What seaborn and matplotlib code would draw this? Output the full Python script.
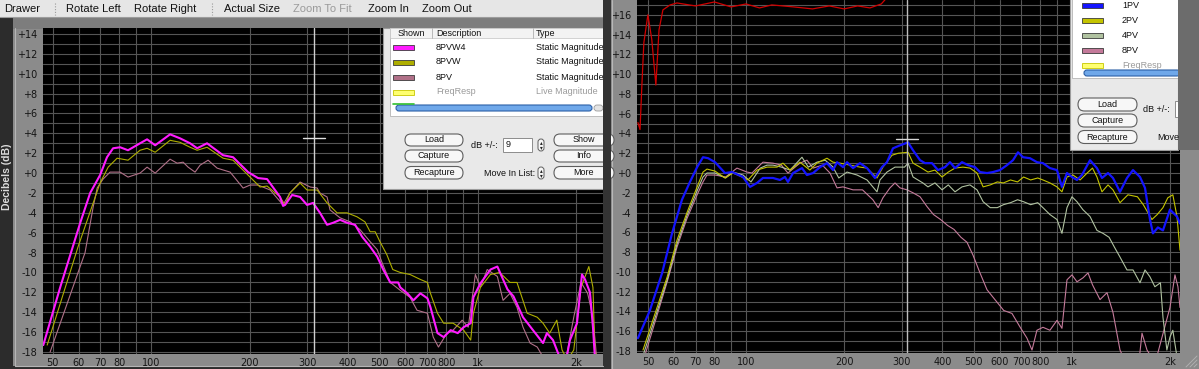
import matplotlib
matplotlib.use("Agg")
import matplotlib.pyplot as plt
import seaborn as sns
import pandas as pd
from matplotlib.patches import Rectangle, FancyBboxPatch
from matplotlib.ticker import FixedLocator, FixedFormatter, NullFormatter, FuncFormatter, MultipleLocator

# ---------------- data (frequency in Hz, level in dB) ----------------
# left window
L_F_8PVW4 = [46.8, 52.7, 59.4, 60.7, 65.1, 69.8, 73.3, 76.5, 80.4, 85.0, 92.5, 97.2, 102.9, 114.3, 122.6,
             131.6, 138.3, 148.3, 166.0, 178.1, 198.0, 212.4, 226.3, 248.0, 253.3, 256.9, 270.0, 285.6, 300.0,
             313.0, 328.6, 345.4, 360.3, 378.5, 397.7, 420.8, 442.1, 467.8, 491.6, 512.9, 539.0, 569.8, 578.5,
             607.9, 634.4, 666.4, 700.4, 715.5, 751.8, 784.9, 824.7, 866.9, 903.8, 949.9, 968.1, 1017, 1092,
             1146, 1231, 1284, 1373, 1473, 1581, 1625, 1696, 1781, 1860, 1911, 2008, 2080, 2125, 2200, 2247,
             2279, 2412]
L_DB_8PVW4 = [-17.3, -11.5, -6.0, -5.0, -2.0, -0.2, 1.6, 2.5, 2.6, 2.3, 3.0, 3.4, 2.8, 3.9, 3.5,
              3.0, 2.5, 3.0, 1.8, 1.6, 0.1, -0.5, -0.6, -2.4, -3.3, -3.2, -2.2, -2.4, -3.2,
              -3.0, -4.0, -5.2, -5.0, -4.7, -5.0, -5.2, -6.4, -7.4, -8.4, -9.7, -11.0, -11.0, -11.5,
              -12.1, -12.8, -12.1, -12.6, -13.5, -16.1, -16.5, -15.8, -16.1, -15.5, -15.1, -12.5, -11.1, -9.7,
              -9.4, -11.7, -12.4, -14.5, -15.8, -17.1, -16.1, -16.8, -18.6, -18.8, -16.8, -15.1, -10.2, -10.7,
              -12.0, -15.5, -18.6, -19.5]

L_F_8PVW = [48.1, 59.8, 69.8, 73.9, 78.7, 85.0, 92.5, 97.2, 102.9, 114.3, 122.6, 131.6, 138.3, 148.3, 166.0,
            178.1, 198.0, 215.4, 226.3, 248.0, 256.9, 265.8, 285.6, 300.0, 322.0, 345.4, 370.6, 397.7, 426.7,
            451.0, 467.8, 484.7, 501.3, 526.1, 548.5, 578.5, 619.5, 666.4, 700.4, 715.5, 751.8, 784.9, 838.9,
            903.8, 949.9, 968.1, 1017, 1092, 1165, 1253, 1316, 1414, 1518, 1581, 1657, 1742, 1808, 1877, 1963,
            2066, 2183, 2247, 2279, 2412]
L_DB_8PVW = [-17.3, -7.4, -1.0, 0.6, 1.5, 1.3, 2.3, 2.5, 2.1, 3.3, 3.1, 2.6, 2.3, 2.6, 1.5,
             1.3, -0.2, -1.4, -1.3, -2.4, -3.2, -2.0, -1.0, -1.7, -1.7, -3.0, -4.0, -4.0, -4.4,
             -4.9, -5.9, -5.9, -6.9, -8.2, -9.7, -10.0, -10.2, -10.7, -11.0, -12.1, -14.1, -15.1, -15.1,
             -15.8, -16.8, -14.1, -11.5, -10.2, -10.0, -11.0, -11.0, -14.1, -14.5, -15.1, -16.1, -14.8, -17.8,
             -18.8, -17.8, -11.5, -9.4, -11.5, -18.0, -19.5]

L_F_8PV = [49.1, 62.8, 66.5, 68.4, 71.3, 74.9, 80.4, 85.0, 92.5, 97.2, 102.9, 114.3, 120.1, 125.3, 129.8,
           136.3, 141.2, 149.4, 159.2, 174.5, 191.2, 200.9, 212.4, 231.3, 253.3, 265.8, 285.6, 306.8, 322.0,
           328.6, 345.4, 352.6, 378.5, 406.3, 436.0, 467.8, 491.6, 508.7, 539.0, 578.5, 619.5, 651.0, 700.4,
           729.5, 756.9, 803.5, 838.9, 894.6, 933.5, 981.5, 1017, 1067, 1146, 1193, 1253, 1316, 1373, 1443,
           1518, 1600, 1855, 1963, 2066, 2165, 2247, 2301, 2412]
L_DB_8PV = [-18.0, -8.0, -3.4, -1.5, -0.6, 0.1, 0.1, -0.4, 0.0, 0.6, 0.0, 1.4, 1.0, 1.1, 0.6,
            0.1, 0.8, 1.3, 0.5, 0.1, -1.5, -1.2, -1.2, -1.7, -3.2, -2.0, -0.9, -1.4, -1.5,
            -2.0, -2.4, -3.7, -4.5, -4.9, -5.7, -6.9, -7.7, -9.0, -11.0, -11.8, -12.5, -13.8, -14.1,
            -16.5, -17.5, -16.1, -15.8, -14.8, -15.5, -10.2, -11.5, -9.7, -10.4, -12.8, -12.1, -13.5, -15.5,
            -17.1, -17.5, -18.8, -18.8, -14.5, -11.0, -12.1, -14.5, -18.2, -19.5]

# right window
R_F_LIVE = [46.6, 47.3, 47.9, 48.6, 50.0, 51.4, 52.9, 54.1, 55.6, 58.5, 61.4, 70, 80, 90, 100, 110, 120,
            140, 160, 180, 200, 220, 240, 260, 275]
R_DB_LIVE = [5.1, 4.4, 8.7, 13.2, 16.0, 13.5, 8.9, 14.5, 16.5, 17.0, 17.2, 16.9, 17.3, 16.8, 17.1, 16.7,
             17.0, 16.8, 16.6, 16.9, 16.6, 16.9, 16.7, 17.1, 18.0]

R_F_1PV = [46.6, 50.7, 55.3, 59.3, 63.6, 67.3, 70.8, 73.8, 76.5, 80.3, 86.2, 90.6, 97.9, 102.9, 108.1,
           112.7, 121.0, 127.1, 131.7, 134.5, 139.4, 148.5, 153.8, 160.6, 168.7, 177.2, 184.9, 190.2, 198.4,
           204.1, 212.9, 223.7, 235.1, 248.7, 261.3, 270.7, 282.4, 296.8, 314.1, 325.4, 341.9, 354.2, 372.0,
           388.1, 407.8, 422.5, 437.7, 459.9, 479.8, 504.1, 522.2, 548.7, 572.4, 601.4, 631.9, 659.2, 683.0,
           707.5, 743.4, 780.9, 814.7, 855.9, 899.5, 931.7, 965.4, 1000, 1036, 1073, 1136, 1193, 1236, 1290,
           1336, 1404, 1475, 1539, 1617, 1675, 1735, 1772, 1835, 1902, 1998, 2100, 2145]
R_DB_1PV = [-16.7, -13.9, -10.1, -6.1, -2.7, -0.9, 0.6, 1.6, 1.5, 1.1, 0.0, 0.1, -0.4, -1.4, -1.0,
            -0.5, -0.5, -0.7, -0.4, -0.9, 0.0, 0.5, -0.2, 0.0, 0.6, 1.0, 0.3, 1.1, 0.6,
            1.1, 0.5, 1.0, 0.5, -0.5, 0.6, 1.1, 2.5, 2.8, 3.1, 2.3, 1.3, 1.0, 1.0,
            0.3, 0.6, 1.1, 0.5, 1.1, 0.8, 0.6, 0.1, 0.0, 0.1, 0.3, 0.8, 1.3, 2.1,
            1.6, 1.5, 1.1, 1.0, 0.5, 0.3, -1.4, 0.0, -0.4, -0.7, -0.2, 1.3, 0.5, -0.5, 0.0,
            -0.5, -1.9, -0.5, 0.3, -0.4, -1.5, -4.7, -6.1, -5.5, -5.8, -3.7, -4.4, -5.1]

R_F_2PV = [48.3, 57.3, 61.4, 65.9, 70.8, 73.8, 75.9, 80.3, 86.2, 91.2, 97.2, 101.4, 108.1, 116.0, 124.5,
           129.8, 136.5, 146.3, 157.0, 165.0, 177.2, 184.9, 194.2, 208.5, 223.7, 235.1, 252.3, 263.1, 280.4,
           293.0, 314.1, 325.4, 341.9, 361.6, 380.0, 399.4, 417.4, 437.7, 462.8, 486.5, 511.3, 533.9, 561.4,
           590.1, 616.2, 647.8, 680.9, 710.5, 746.9, 785.0, 814.7, 855.9, 899.5, 931.7, 965.4, 1007, 1059,
           1113, 1156, 1193, 1236, 1290, 1336, 1404, 1485, 1588, 1655, 1759, 1826, 1902, 1968, 2039, 2100, 2145]
R_DB_2PV = [-17.9, -10.5, -6.8, -4.0, -1.4, 0.1, 0.4, 0.2, -0.5, 0.0, -0.4, -0.7, 0.3, 0.6, 0.6,
            1.0, 0.3, 1.1, 0.3, 1.0, 1.5, 1.1, 1.0, 0.8, 0.6, 0.5, -0.5, 0.6, 1.8,
            2.0, 2.1, 1.0, 0.6, 0.1, 0.3, -0.4, 0.1, 0.5, 0.6, 0.5, 0.0, -1.4, -1.2,
            -0.9, -1.0, -0.7, -0.9, -0.4, -0.7, -0.5, -0.7, -1.0, -1.4, -1.9, -0.4, -0.2, -0.7,
            0.0, 0.5, -0.4, -1.9, -1.2, -1.7, -3.0, -2.2, -2.4, -3.2, -4.7, -4.2, -3.5, -2.5, -2.2, -4.4, -7.8]

R_F_4PV = [48.6, 57.3, 61.4, 65.9, 70.8, 73.8, 75.9, 80.3, 86.6, 91.2, 97.9, 103.6, 110.6, 116.0, 121.0,
           128.4, 136.5, 148.5, 155.3, 165.0, 175.0, 184.9, 192.6, 204.1, 219.1, 235.1, 252.3, 257.6, 270.7,
           286.5, 306.5, 314.1, 325.4, 348.8, 361.6, 380.0, 399.4, 417.4, 437.7, 459.9, 486.5, 511.3, 533.9,
           561.4, 590.1, 616.2, 647.8, 680.9, 710.5, 746.9, 785.0, 814.7, 855.9, 899.5, 931.7, 965.4, 1000,
           1036, 1080, 1136, 1193, 1245, 1300, 1350, 1404, 1475, 1539, 1617, 1675, 1735, 1796, 1868, 1902,
           1955, 1998, 2039, 2100, 2145]
R_DB_4PV = [-18.2, -10.8, -7.2, -4.3, -1.8, -0.4, 0.0, 0.0, -0.5, 0.1, -0.2, -0.9, 0.5, 0.8, 0.8,
            0.6, 0.3, 1.6, 0.6, 1.1, 1.3, 0.6, -0.5, 0.1, -0.2, -0.7, -1.9, -0.7, 0.1,
            0.6, 0.6, 1.0, -0.4, -1.0, -1.4, -1.0, -1.7, -1.2, -1.9, -1.4, -1.2, -1.7, -2.9,
            -3.5, -3.5, -3.2, -3.0, -2.7, -2.9, -3.2, -3.0, -3.5, -4.2, -4.7, -6.1, -3.5, -2.4,
            -2.9, -3.7, -4.4, -5.8, -6.1, -6.5, -7.5, -8.5, -9.8, -9.8, -11.1, -9.8, -10.5, -11.5, -11.1, -14.6,
            -17.9, -16.6, -15.9, -18.6, -19.0]

R_F_8PV = [49.0, 57.3, 61.4, 65.9, 70.8, 73.8, 75.9, 80.3, 86.6, 93.8, 100.7, 104.3, 112.7, 121.0, 128.4,
           134.5, 146.3, 153.8, 160.6, 171.5, 181.0, 190.2, 198.4, 212.9, 227.7, 245.0, 254.4, 263.1, 276.5,
           286.5, 296.8, 311.9, 325.4, 341.9, 359.3, 376.0, 395.3, 415.4, 434.6, 456.6, 476.4, 497.0, 522.2,
           548.7, 580.4, 617.6, 654.6, 693.7, 727.8, 754.0, 780.9, 814.7, 855.9, 899.5, 931.7, 965.4, 1000,
           1036, 1081, 1120, 1156, 1219, 1281, 1336, 1404, 1454, 1600, 1640, 1699, 1800, 1998, 2070, 2114, 2145]
R_DB_8PV = [-18.4, -11.0, -7.5, -4.6, -2.2, -0.9, -0.2, -0.2, -0.4, 0.5, 0.1, 0.0, 1.1, 1.0, 0.8,
            0.0, 1.0, 1.3, 0.5, 0.8, 0.0, -1.5, -1.4, -1.7, -1.7, -2.7, -3.5, -2.5, -1.5,
            -1.0, -1.5, -1.7, -2.0, -2.4, -3.4, -4.2, -4.7, -5.3, -5.7, -6.5, -7.0, -8.3, -10.1,
            -11.8, -12.8, -13.9, -14.2, -15.6, -16.7, -17.9, -15.9, -15.6, -15.9, -14.9, -15.7, -10.8, -10.3,
            -11.0, -10.6, -10.1, -11.3, -12.8, -12.1, -14.1, -17.9, -19.0, -19.5, -16.2, -17.9, -19.2, -13.6,
            -10.3, -11.5, -13.6]

# axis ticks / labels
X_TICKS = [50, 60, 70, 80, 100, 200, 300, 400, 500, 600, 700, 800, 1000, 2000]
X_TICK_LABELS = ["50", "60", "70", "80", "100", "200", "300", "400", "500", "600", "700", "800", "1k", "2k"]
X_MINOR = [90, 900, 3000]
L_YTICKS = list(range(-18, 15, 2))
R_YTICKS = list(range(-18, 17, 2))

# legend lists
L_NAMES = ["8PVW4", "8PVW", "8PV", "FreqResp"]
L_TYPES = ["Static Magnitude", "Static Magnitude", "Static Magnitude", "Live Magnitude"]
R_NAMES = ["1PV", "2PV", "4PV", "8PV", "FreqResp"]

TOOLBAR = [("Drawer", 4, "#111111"), ("Rotate Left", 66, "#111111"), ("Rotate Right", 134, "#111111"),
           ("Actual Size", 224, "#111111"), ("Zoom To Fit", 293, "#9a9a9a"), ("Zoom In", 368, "#111111"),
           ("Zoom Out", 422, "#111111")]

CURSOR_FREQ_L, CURSOR_DB_L, CURSOR_SPAN_L = 315, 3.5, (291, 340)
CURSOR_FREQ_R, CURSOR_DB_R, CURSOR_SPAN_R = 312, 3.4, (288, 336)

# colours
C_MAG = "#ff1cff"
C_OLIVE_L = "#aeae00"
C_PINK_L = "#b07088"
C_BLUE = "#1414ff"
C_OLIVE_R = "#c4c400"
C_SAGE = "#b0c2a0"
C_PINK_R = "#c47a9a"
C_RED = "#d00000"
C_FREQ = "#ffff70"

# ---------------- figure ----------------
sns.set_theme(style="dark")
plt.rcParams['font.family'] = ['DejaVu Sans']

W, H = 1199, 369
fig = plt.figure(figsize=(W / 100, H / 100), dpi=100)
fig.patch.set_facecolor('#8b8b8b')


def px_axes(z):
    a = fig.add_axes([0, 0, 1, 1], zorder=z)
    a.set_xlim(0, W)
    a.set_ylim(H, 0)
    a.axis('off')
    a.patch.set_alpha(0)
    return a


bg = px_axes(0)
# left window chrome
bg.add_patch(Rectangle((0, 0), 603, 17, fc='#e6e6e6', ec='none'))
bg.plot([0, 603], [17, 17], color='#9c9c9c', lw=0.8)
bg.add_patch(Rectangle((0, 17.5), 603, 11, fc='#7d7d7d', ec='none'))
bg.add_patch(Rectangle((0, 17.5), 13, H, fc='#2c2c2c', ec='none'))
bg.plot([14.5, 14.5], [28, 366], color='#b5b5b5', lw=0.8)
bg.plot([14.5, 603], [365.5, 365.5], color='#b5b5b5', lw=0.8)
bg.add_patch(Rectangle((0, 366), 603, 4, fc='#2c2c2c', ec='none'))
for sx in (55, 212):
    bg.plot([sx, sx], [3, 15], color='#9a9a9a', lw=0.8, ls=(0, (1, 1.5)))
for txt, tx, tc in TOOLBAR:
    bg.text(tx, 8.5, txt, color=tc, fontsize=8, va='center', ha='left', family='Liberation Sans')
bg.text(7, 177, "Decibels (dB)", rotation=90, color='#dcdcdc', fontsize=7.5, fontweight='bold',
        va='center', ha='center', family='Liberation Sans')
# right window chrome
bg.add_patch(Rectangle((603, 0), 8, H, fc='#333333', ec='none'))
bg.plot([611.5, 611.5], [0, H], color='#b8b8b8', lw=0.8)
bg.add_patch(Rectangle((1178, 0), 21, 150, fc='#6c6c6c', ec='none'))
for k in range(3):
    bg.plot([1186 + 4 * k, 1197], [367, 356 + 4 * k], color='#b0b0b0', lw=0.7)

# ---------------- plot axes ----------------
axL = fig.add_axes([43 / W, (H - 354) / H, 560 / W, 326 / H], zorder=1)
axR = fig.add_axes([637 / W, (H - 353) / H, 543 / W, 353 / H], zorder=2)


def style_axes(ax, xlim, ylim, yticks):
    ax.set_facecolor('black')
    ax.set_xscale('log')
    ax.set_xlim(*xlim)
    ax.set_ylim(*ylim)
    ax.xaxis.set_major_locator(FixedLocator(X_TICKS))
    ax.xaxis.set_major_formatter(FixedFormatter(X_TICK_LABELS))
    ax.xaxis.set_minor_locator(FixedLocator(X_MINOR))
    ax.xaxis.set_minor_formatter(NullFormatter())
    ax.yaxis.set_major_locator(FixedLocator(yticks))
    ax.yaxis.set_major_formatter(FuncFormatter(lambda v, p: f"{int(round(v)):+d}"))
    ax.yaxis.set_minor_locator(MultipleLocator(1))
    ax.set_axisbelow(True)
    ax.grid(True, which='both', color='#555555', lw=0.8)
    ax.tick_params(axis='x', which='both', length=0, labelsize=7, labelcolor='#151515', pad=3)
    ax.tick_params(axis='y', which='major', length=3, width=0.8, color='#202020', labelsize=7,
                   labelcolor='#151515', pad=1)
    ax.tick_params(axis='y', which='minor', length=0)
    for s in ax.spines.values():
        s.set_visible(False)
    ax.set_xlabel('')
    ax.set_ylabel('')


def trace(ax, f, db, color, lw):
    df = pd.DataFrame({"freq": f, "db": db})
    sns.lineplot(data=df, x="freq", y="db", ax=ax, color=color, linewidth=lw,
                 estimator=None, sort=False, legend=False)


trace(axL, L_F_8PV, L_DB_8PV, C_PINK_L, 0.8)
trace(axL, L_F_8PVW, L_DB_8PVW, C_OLIVE_L, 0.8)
trace(axL, L_F_8PVW4, L_DB_8PVW4, C_MAG, 1.5)
axL.axvline(CURSOR_FREQ_L, color='#cfcfcf', lw=1.0)
axL.plot(CURSOR_SPAN_L, [CURSOR_DB_L, CURSOR_DB_L], color='#e0e0e0', lw=1.0)
style_axes(axL, (46.7, 2412), (-18.2, 14.6), L_YTICKS)

trace(axR, R_F_LIVE, R_DB_LIVE, C_RED, 0.9)
trace(axR, R_F_8PV, R_DB_8PV, C_PINK_R, 0.8)
trace(axR, R_F_4PV, R_DB_4PV, C_SAGE, 0.8)
trace(axR, R_F_2PV, R_DB_2PV, C_OLIVE_R, 0.8)
trace(axR, R_F_1PV, R_DB_1PV, C_BLUE, 1.6)
axR.axvline(CURSOR_FREQ_R, color='#bdbdbd', lw=1.0)
axR.plot(CURSOR_SPAN_R, [CURSOR_DB_R, CURSOR_DB_R], color='#d8d8d8', lw=1.0)
style_axes(axR, (46.3, 2145), (-18.2, 17.5), R_YTICKS)

# ---------------- overlay panels ----------------
ov = px_axes(10)
PF = 'Liberation Sans'


def button(x, y, w, h, label):
    ov.add_patch(FancyBboxPatch((x, y), w, h, boxstyle=f"round,pad=0,rounding_size={h / 2}",
                                fc='#f7f7f7', ec='#5e5e5e', lw=0.8))
    ov.text(x + w / 2, y + h / 2, label, fontsize=6.5, ha='center', va='center', color='#111', family=PF)


def spinner(x, y):
    ov.add_patch(FancyBboxPatch((x, y), 6, 12, boxstyle="round,pad=0,rounding_size=3",
                                fc='#f7f7f7', ec='#5e5e5e', lw=0.7))
    ov.text(x + 3, y + 3.5, '\u25b4', fontsize=4, ha='center', va='center', color='#222')
    ov.text(x + 3, y + 8.5, '\u25be', fontsize=4, ha='center', va='center', color='#222')


# left legend panel
ov.add_patch(Rectangle((383, 28), 221, 161, fc='#e9e9e9', ec='#9c9c9c', lw=0.8))
ov.add_patch(Rectangle((390, 28), 214, 88, fc='white', ec='#b4b4b4', lw=0.6))
ov.add_patch(Rectangle((390, 28), 214, 10, fc='#f3f3f3', ec='#c4c4c4', lw=0.5))
for sx in (432, 533):
    ov.plot([sx, sx], [28, 38], color='#b0b0b0', lw=0.6)
ov.text(398, 33, "Shown", fontsize=6.5, va='center', color='#111', family=PF)
ov.text(436, 33, "Description", fontsize=6.5, va='center', color='#111', family=PF)
ov.text(536, 33, "Type", fontsize=6.5, va='center', color='#111', family=PF)
L_SW = [C_MAG, C_OLIVE_L, C_PINK_L, C_FREQ]
for i, (nm, tp, sc) in enumerate(zip(L_NAMES, L_TYPES, L_SW)):
    yc = 47 + 15 * i
    live = tp.startswith("Live")
    ov.add_patch(Rectangle((393, yc - 2.5), 21, 5, fc=sc, ec='#c8c800' if live else '#3a3a3a', lw=0.6))
    tcol = '#9a9a9a' if live else '#111'
    ov.text(436, yc, nm, fontsize=6.5, va='center', color=tcol, family=PF)
    ov.text(536, yc, tp, fontsize=6.5, va='center', color=tcol, family=PF)
ov.plot([393, 414], [103.5, 103.5], color='#2fbf2f', lw=1.2)
ov.add_patch(FancyBboxPatch((396, 105), 196, 6, boxstyle="round,pad=0,rounding_size=3",
                            fc='#6fa8ea', ec='#2c5fa6', lw=0.8))
ov.add_patch(FancyBboxPatch((594, 105), 9, 6, boxstyle="round,pad=0,rounding_size=3",
                            fc='#e4e4e4', ec='#9a9a9a', lw=0.6))
button(405, 134, 58, 12, "Load")
button(405, 150, 58, 12, "Capture")
button(405, 166.5, 58, 12.5, "Recapture")
ov.text(471, 145, "dB +/-:", fontsize=6.5, va='center', color='#111', family=PF)
ov.add_patch(Rectangle((503, 138), 29, 14, fc='white', ec='#8c8c8c', lw=0.7))
ov.text(505.5, 144.5, "9", fontsize=6.5, va='center', color='#111', family=PF)
spinner(538, 139)
ov.text(484, 173, "Move In List:", fontsize=6.5, va='center', color='#111', family=PF)
spinner(538, 167)
button(554, 134, 60, 12, "Show")
button(554, 150, 60, 12, "Info")
button(554, 166.5, 60, 12.5, "More")
ov.add_patch(Rectangle((603, 0), 8, 200, fc='#333333', ec='none', zorder=5))

# right legend panel
ov.add_patch(Rectangle((1070, -2), 108, 152, fc='#e9e9e9', ec='#9c9c9c', lw=0.8))
ov.add_patch(Rectangle((1072, -2), 106, 80, fc='white', ec='#b4b4b4', lw=0.6))
R_SW = [C_BLUE, C_OLIVE_R, C_SAGE, C_PINK_R, C_FREQ]
for i, (nm, sc) in enumerate(zip(R_NAMES, R_SW)):
    yc = 5.7 + 14.9 * i
    live = nm == "FreqResp"
    ov.add_patch(Rectangle((1082, yc - 2.5), 21, 5, fc=sc, ec='#c8c800' if live else '#3a3a3a', lw=0.6))
    ov.text(1122, yc, nm, fontsize=6.5, va='center', color='#9a9a9a' if live else '#111', family=PF)
ov.add_patch(FancyBboxPatch((1084, 70), 96, 6, boxstyle="round,pad=0,rounding_size=3",
                            fc='#6fa8ea', ec='#2c5fa6', lw=0.8))
button(1078, 98, 59, 13, "Load")
button(1078, 114, 59, 13, "Capture")
button(1078, 130.5, 59, 13, "Recapture")
ov.text(1143, 110, "dB +/-:", fontsize=6.5, va='center', color='#111', family=PF)
ov.add_patch(Rectangle((1175, 101), 8, 16, fc='white', ec='#8c8c8c', lw=0.7))
ov.text(1157, 137, "Move", fontsize=6.5, va='center', color='#111', family=PF)
ov.add_patch(Rectangle((1178, 0), 21, 150, fc='#6c6c6c', ec='none'))

fig.savefig("out.png", dpi=100, facecolor=fig.get_facecolor())
